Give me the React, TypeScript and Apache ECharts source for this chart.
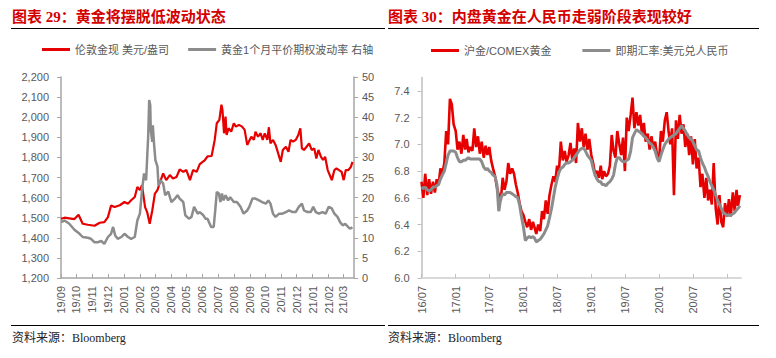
import React, { useEffect, useRef } from 'react';
import * as echarts from 'echarts';

// ---------- Left chart: London gold spot & 1M ATM gold option vol ----------
const goldDates = [
  '2019-09-01','2019-09-08','2019-09-17','2019-09-27','2019-10-05','2019-10-13','2019-10-23','2019-11-05','2019-11-15','2019-11-24',
  '2019-12-01','2019-12-07','2019-12-14','2019-12-24','2020-01-02','2020-01-09','2020-01-15','2020-01-22','2020-01-27','2020-02-01',
  '2020-02-05','2020-02-11','2020-02-15','2020-02-20','2020-02-25','2020-03-01','2020-03-06','2020-03-10','2020-03-17','2020-03-23',
  '2020-03-30','2020-04-05','2020-04-12','2020-04-18','2020-04-25','2020-05-01','2020-05-08','2020-05-14','2020-05-21','2020-05-27',
  '2020-06-06','2020-06-11','2020-06-19','2020-06-25','2020-06-29','2020-07-04','2020-07-08','2020-07-10','2020-07-13','2020-07-16',
  '2020-07-18','2020-07-22','2020-07-27','2020-08-01','2020-08-05','2020-08-11','2020-08-17','2020-08-22','2020-08-27','2020-08-30',
  '2020-09-04','2020-09-09','2020-09-12','2020-09-17','2020-09-22','2020-09-26','2020-09-30','2020-10-05','2020-10-08','2020-10-11',
  '2020-10-16','2020-10-21','2020-10-26','2020-10-31','2020-11-04','2020-11-10','2020-11-15','2020-11-19','2020-11-24','2020-11-29',
  '2020-12-04','2020-12-08','2020-12-11','2020-12-15','2020-12-20','2020-12-25','2020-12-30','2021-01-04','2021-01-08','2021-01-12',
  '2021-01-17','2021-01-21','2021-01-25','2021-01-30','2021-02-03','2021-02-07','2021-02-12','2021-02-16','2021-02-21','2021-02-26',
  '2021-03-02','2021-03-06','2021-03-11','2021-03-16','2021-03-19',
];
const goldPrice = [
  1495,1500,1497,1493,1515,1470,1465,1460,1475,1478,
  1503,1560,1553,1562,1578,1570,1587,1603,1653,1637,
  1662,1553,1528,1470,1537,1620,1637,1670,1720,1687,
  1712,1695,1703,1740,1728,1737,1687,1737,1728,1767,
  1787,1805,1807,1887,1970,1987,2062,2037,1920,2003,
  1912,1945,1928,1970,1953,1962,1953,1937,1862,1878,
  1903,1887,1928,1903,1920,1887,1920,1887,1950,1870,
  1887,1862,1820,1778,1837,1853,1828,1887,1878,1887,
  1912,1945,1845,1837,1853,1870,1837,1845,1795,1837,
  1803,1787,1803,1737,1712,1687,1737,1745,1737,1728,
  1687,1737,1737,1753,1778,
];
const volDates = [
  '2019-09-01','2019-09-08','2019-09-17','2019-09-27','2019-10-07','2019-10-13','2019-10-23','2019-10-29','2019-11-05','2019-11-11',
  '2019-11-18','2019-11-24','2019-12-01','2019-12-07','2019-12-11','2019-12-15','2019-12-20','2019-12-27','2020-01-02','2020-01-09',
  '2020-01-15','2020-01-22','2020-01-27','2020-02-01','2020-02-05','2020-02-09','2020-02-13','2020-02-17','2020-02-19','2020-02-21',
  '2020-02-22','2020-02-25','2020-02-26','2020-02-28','2020-03-02','2020-03-06','2020-03-08','2020-03-12','2020-03-17','2020-03-21',
  '2020-03-27','2020-04-02','2020-04-09','2020-04-14','2020-04-18','2020-04-25','2020-04-29','2020-05-06','2020-05-11','2020-05-16',
  '2020-05-23','2020-05-27','2020-06-03','2020-06-07','2020-06-11','2020-06-18','2020-06-23','2020-06-26','2020-06-29','2020-07-03',
  '2020-07-06','2020-07-09','2020-07-12','2020-07-16','2020-07-21','2020-07-25','2020-08-01','2020-08-07','2020-08-14','2020-08-20',
  '2020-08-27','2020-08-31','2020-09-06','2020-09-12','2020-09-19','2020-09-25','2020-10-02','2020-10-07','2020-10-11','2020-10-16',
  '2020-10-21','2020-10-28','2020-11-03','2020-11-10','2020-11-16','2020-11-23','2020-11-29','2020-12-05','2020-12-11','2020-12-15',
  '2020-12-22','2020-12-28','2021-01-02','2021-01-07','2021-01-13','2021-01-20','2021-01-26','2021-02-01','2021-02-07','2021-02-12',
  '2021-02-18','2021-02-23','2021-02-28','2021-03-05','2021-03-10','2021-03-14','2021-03-19',
];
const volValues = [
  13.9,14.3,13.5,12.0,11.0,10.2,10.0,9.75,8.9,8.9,
  9.2,8.5,10.2,11.0,12.7,10.6,9.75,10.2,11.0,10.2,
  9.75,10.2,14.3,16.0,21.8,26.0,24.3,35.2,44.3,43.0,
  36.8,33.9,38.0,34.0,29.3,27.7,23.0,24.3,23.5,20.6,
  21.5,18.9,19.75,20.6,19.75,18.9,15.6,14.75,15.2,17.7,
  16.0,16.4,15.6,14.75,14.75,12.7,12.7,16.8,21.4,21.0,
  18.9,21.0,19.3,20.6,19.3,20.1,18.9,18.9,17.7,16.0,
  16.8,17.7,19.75,19.75,19.3,18.9,18.5,19.3,18.5,16.0,
  15.2,16.0,16.0,16.4,16.8,16.4,16.4,17.7,18.5,16.8,
  16.4,16.4,17.7,16.4,16.0,16.4,16.0,17.7,17.3,16.0,
  15.2,13.9,13.1,13.5,12.8,12.25,12.6,
];
const leftTickDates = [
  '2019-09-01','2019-10-01','2019-11-01','2019-12-01','2020-01-01','2020-02-01','2020-03-01','2020-04-01','2020-05-01','2020-06-01',
  '2020-07-01','2020-08-01','2020-09-01','2020-10-01','2020-11-01','2020-12-01','2021-01-01','2021-02-01','2021-03-01',
];

// ---------- Right chart: SHFE gold / COMEX gold vs USD/CNY spot ----------
// samples on the 1st, 11th and 21st of each month, 2016-07 .. 2021-03
const cnMonths = [
  '2016-07','2016-08','2016-09','2016-10','2016-11','2016-12',
  '2017-01','2017-02','2017-03','2017-04','2017-05','2017-06','2017-07','2017-08','2017-09','2017-10','2017-11','2017-12',
  '2018-01','2018-02','2018-03','2018-04','2018-05','2018-06','2018-07','2018-08','2018-09','2018-10','2018-11','2018-12',
  '2019-01','2019-02','2019-03','2019-04','2019-05','2019-06','2019-07','2019-08','2019-09','2019-10','2019-11','2019-12',
  '2020-01','2020-02','2020-03','2020-04','2020-05','2020-06','2020-07','2020-08','2020-09','2020-10','2020-11','2020-12',
  '2021-01','2021-02','2021-03',
];
const cnSampleDays = ['01', '11', '21'];
const shComexRatio = [
  6.72,6.60,6.78, 6.62,6.74,6.63, 6.72,6.64,6.74, 6.70,6.82,6.78, 6.86,7.10,7.00, 7.34,7.30,7.15,
  7.10,6.96,7.02, 6.93,7.07,6.96, 7.04,6.94,6.98, 6.95,7.12,6.98, 7.06,6.93,7.02, 6.90,6.99,6.92,
  6.98,6.88,6.82, 6.76,6.68,6.62, 6.58,6.75,6.66, 6.72,6.86,6.78, 6.82,6.78,6.70, 6.64,6.56,6.50,
  6.47,6.42,6.38, 6.44,6.36,6.42, 6.38,6.33,6.40, 6.35,6.50,6.44, 6.58,6.48,6.62, 6.70,6.76,6.72,
  6.84,6.80,7.02, 6.88,6.95,6.87, 6.92,7.01,6.88, 6.97,6.86,7.16, 7.02,7.12,6.98, 7.08,6.96,7.04,
  6.92,6.86,6.78, 6.80,6.75,6.84, 6.74,6.80,6.76, 6.78,6.84,7.07, 6.95,6.90,7.10, 7.00,6.92,7.05,
  6.80,7.20,7.10, 7.22,7.35,7.12, 7.24,7.14,7.22, 7.07,7.16,7.02, 7.08,6.96,7.06, 6.97,7.02,6.92,
  6.88,7.10,7.02, 7.18,7.24,7.10, 7.00,7.12,6.62, 7.18,7.04,7.22, 7.08,7.15,6.98, 7.08,6.92,7.06,
  6.85,7.04,6.82, 6.90,6.68,6.78, 6.60,6.75,6.58, 6.66,6.55,6.86, 6.52,6.40,6.62, 6.42,6.38,6.56,
  6.46,6.59,6.46, 6.64,6.50,6.66, 6.54,6.62,
];
const usdCny = [
  6.68,6.67,6.68, 6.66,6.65,6.66, 6.68,6.68,6.69, 6.70,6.74,6.77, 6.80,6.86,6.92, 6.95,6.95,6.95,
  6.94,6.90,6.87, 6.87,6.88,6.88, 6.89,6.90,6.89, 6.89,6.89,6.89, 6.89,6.89,6.87, 6.83,6.81,6.82,
  6.80,6.79,6.77, 6.76,6.70,6.50, 6.60,6.63,6.62, 6.64,6.64,6.64, 6.63,6.62,6.61, 6.60,6.55,6.46,
  6.38,6.28,6.30, 6.31,6.30,6.31, 6.30,6.27,6.28, 6.29,6.31,6.33, 6.36,6.39,6.45, 6.52,6.60,6.68,
  6.74,6.79,6.82, 6.83,6.85,6.86, 6.86,6.87,6.88, 6.90,6.92,6.94, 6.96,6.97,6.97, 6.95,6.92,6.90,
  6.88,6.82,6.77, 6.74,6.72,6.72, 6.70,6.70,6.69, 6.71,6.72,6.74, 6.77,6.85,6.90, 6.90,6.88,6.87,
  6.87,6.88,6.89, 6.95,7.05,7.08, 7.11,7.10,7.09, 7.08,7.06,7.05, 7.03,7.01,7.00, 6.98,6.95,6.90,
  6.87,6.92,6.96, 7.00,7.02,7.04, 7.05,7.06,7.07, 7.08,7.10,7.12, 7.14,7.12,7.10, 7.07,7.05,7.04,
  7.02,6.99,6.96, 6.95,6.90,6.86, 6.83,6.79,6.76, 6.72,6.69,6.66, 6.62,6.58,6.55, 6.52,6.49,6.48,
  6.47,6.47,6.47, 6.48,6.49,6.51, 6.52,6.54,
];
const rightTickDates = [
  '2016-07-01','2017-01-01','2017-07-01','2018-01-01','2018-07-01','2019-01-01','2019-07-01','2020-01-01','2020-07-01','2021-01-01',
];
const rightYTicks = [6.0, 6.2, 6.4, 6.6, 6.8, 7.0, 7.2, 7.4];

const leftNames = ['伦敦金现 美元/盎司', '黄金1个月平价期权波动率 右轴'];
const rightNames = ['沪金/COMEX黄金', '即期汇率:美元兑人民币'];

const toTs = (s: string) => {
  const [y, m, d] = s.split('-').map(Number);
  return new Date(y, m - 1, d).getTime();
};
const fmtYM = (v: number) => {
  const d = new Date(v);
  return String(d.getFullYear()).slice(2) + '/' + String(d.getMonth() + 1).padStart(2, '0');
};

const RED = '#e60000';
const GRAY = '#8c8c8c';
const LABEL = '#595959';
const SANS = "'Liberation Sans', Arial, 'Noto Sans CJK SC', sans-serif";
const TITLE_FONT = "'Liberation Serif', 'Noto Sans CJK SC', serif";

export default function App() {
  const ref = useRef<HTMLDivElement>(null);

  useEffect(() => {
    if (!ref.current) return;
    const chart = echarts.init(ref.current, undefined, { renderer: 'svg' });

    const cnDates: string[] = [];
    cnMonths.forEach((m) => cnSampleDays.forEach((d) => cnDates.push(m + '-' + d)));

    const goldData = goldDates.map((d, i) => [toTs(d), goldPrice[i]]);
    const volData = volDates.map((d, i) => [toTs(d), volValues[i]]);
    const ratioData = shComexRatio.map((v, i) => [toTs(cnDates[i]), v]);
    const fxData = usdCny.map((v, i) => [toTs(cnDates[i]), v]);

    const leftTicks = leftTickDates.map(toTs);
    const rightTicks = rightTickDates.map(toTs);

    const labelStyle = { color: LABEL, fontSize: 11, fontFamily: SANS };
    const legendText = { color: LABEL, fontSize: 11, fontFamily: SANS };

    const option: any = {
      animation: false,
      backgroundColor: '#ffffff',
      legend: [
        {
          data: leftNames, left: 42, top: 44, padding: 0, icon: 'rect',
          itemWidth: 28, itemHeight: 3, itemGap: 19, textStyle: legendText,
        },
        {
          data: rightNames, left: 431, top: 45, padding: 0, icon: 'rect',
          itemWidth: 28, itemHeight: 3, itemGap: 31, textStyle: legendText,
        },
      ],
      grid: [
        { left: 61, top: 77, width: 293, height: 201, containLabel: false },
        { left: 421.5, top: 77.5, width: 319.5, height: 200.5, containLabel: false },
      ],
      xAxis: [
        {
          type: 'value', gridIndex: 0, scale: true,
          min: toTs('2019-09-01'), max: toTs('2021-03-22'),
          axisLine: { show: true, lineStyle: { color: '#a6a6a6', width: 1.5 } },
          axisTick: { show: true, inside: true, length: 4, customValues: leftTicks, lineStyle: { color: '#a6a6a6' } },
          axisLabel: { ...labelStyle, customValues: leftTicks, formatter: fmtYM, rotate: 90, margin: 8, showMinLabel: true, showMaxLabel: true },
          splitLine: { show: false },
        },
        {
          type: 'value', gridIndex: 1, scale: true,
          min: toTs('2016-07-01'), max: toTs('2021-03-17'),
          axisLine: { show: true, lineStyle: { color: '#d9d9d9', width: 2 } },
          axisTick: { show: true, inside: true, length: 4, customValues: rightTicks, lineStyle: { color: '#bfbfbf' } },
          axisLabel: { ...labelStyle, customValues: rightTicks, formatter: fmtYM, rotate: 90, margin: 8, showMinLabel: true, showMaxLabel: true },
          splitLine: { show: false },
        },
      ],
      yAxis: [
        {
          type: 'value', gridIndex: 0, position: 'left', min: 1200, max: 2200, interval: 100,
          axisLine: { show: true, lineStyle: { color: '#a6a6a6', width: 1.5 } },
          axisTick: { show: true, length: 4, lineStyle: { color: '#a6a6a6' } },
          axisLabel: { ...labelStyle, margin: 12, formatter: (v: number) => v.toLocaleString('en-US') },
          splitLine: { show: false },
        },
        {
          type: 'value', gridIndex: 0, position: 'right', min: 0, max: 50, interval: 5,
          axisLine: { show: true, lineStyle: { color: '#a6a6a6', width: 1.5 } },
          axisTick: { show: true, length: 4, lineStyle: { color: '#a6a6a6' } },
          axisLabel: { ...labelStyle, margin: 8 },
          splitLine: { show: false },
        },
        {
          type: 'value', gridIndex: 1, position: 'left', min: 6.0, max: 7.5, interval: 0.2,
          axisLine: { show: true, lineStyle: { color: '#bfbfbf', width: 1.5 } },
          axisTick: { show: true, length: 4, customValues: rightYTicks, lineStyle: { color: '#bfbfbf' } },
          axisLabel: { ...labelStyle, margin: 12, customValues: rightYTicks, formatter: (v: number) => v.toFixed(1) },
          splitLine: { show: false },
        },
      ],
      series: [
        {
          name: leftNames[0], type: 'line', xAxisIndex: 0, yAxisIndex: 0, data: goldData,
          color: RED, showSymbol: false, symbol: 'none', lineStyle: { color: RED, width: 2.2 }, z: 2,
        },
        {
          name: leftNames[1], type: 'line', xAxisIndex: 0, yAxisIndex: 1, data: volData,
          color: GRAY, showSymbol: false, symbol: 'none', lineStyle: { color: GRAY, width: 2.5 }, z: 3,
        },
        {
          name: rightNames[0], type: 'line', xAxisIndex: 1, yAxisIndex: 2, data: ratioData,
          color: RED, showSymbol: false, symbol: 'none', lineStyle: { color: RED, width: 2.6 }, z: 2,
        },
        {
          name: rightNames[1], type: 'line', xAxisIndex: 1, yAxisIndex: 2, data: fxData,
          color: GRAY, showSymbol: false, symbol: 'none', lineStyle: { color: GRAY, width: 3 }, z: 3,
        },
      ],
      graphic: [
        {
          type: 'text', x: 12, y: 16.5,
          style: { text: '图表 29：黄金将摆脱低波动状态', fill: '#d40000', fontSize: 15, fontWeight: 'bold', fontFamily: TITLE_FONT, verticalAlign: 'middle' },
        },
        {
          type: 'text', x: 388, y: 16.5,
          style: { text: '图表 30：内盘黄金在人民币走弱阶段表现较好', fill: '#d40000', fontSize: 15, fontWeight: 'bold', fontFamily: TITLE_FONT, verticalAlign: 'middle' },
        },
        { type: 'line', shape: { x1: 11, y1: 28.5, x2: 385, y2: 28.5 }, style: { stroke: '#000', lineWidth: 1.2 } },
        { type: 'line', shape: { x1: 388, y1: 28.5, x2: 759, y2: 28.5 }, style: { stroke: '#000', lineWidth: 1.2 } },
        { type: 'line', shape: { x1: 11, y1: 325.5, x2: 385, y2: 325.5 }, style: { stroke: '#000', lineWidth: 1.2 } },
        { type: 'line', shape: { x1: 388, y1: 325.5, x2: 759, y2: 325.5 }, style: { stroke: '#000', lineWidth: 1.2 } },
        {
          type: 'text', x: 12, y: 338,
          style: { text: '资料来源：Bloomberg', fill: '#222', fontSize: 12, fontFamily: TITLE_FONT, verticalAlign: 'middle' },
        },
        {
          type: 'text', x: 388, y: 338,
          style: { text: '资料来源：Bloomberg', fill: '#222', fontSize: 12, fontFamily: TITLE_FONT, verticalAlign: 'middle' },
        },
      ],
    };

    chart.setOption(option);
    return () => chart.dispose();
  }, []);

  return (
    <div
      ref={ref}
      style={{ position: 'fixed', left: 0, top: 0, width: 776, height: 358, background: '#fff' }}
    />
  );
}
